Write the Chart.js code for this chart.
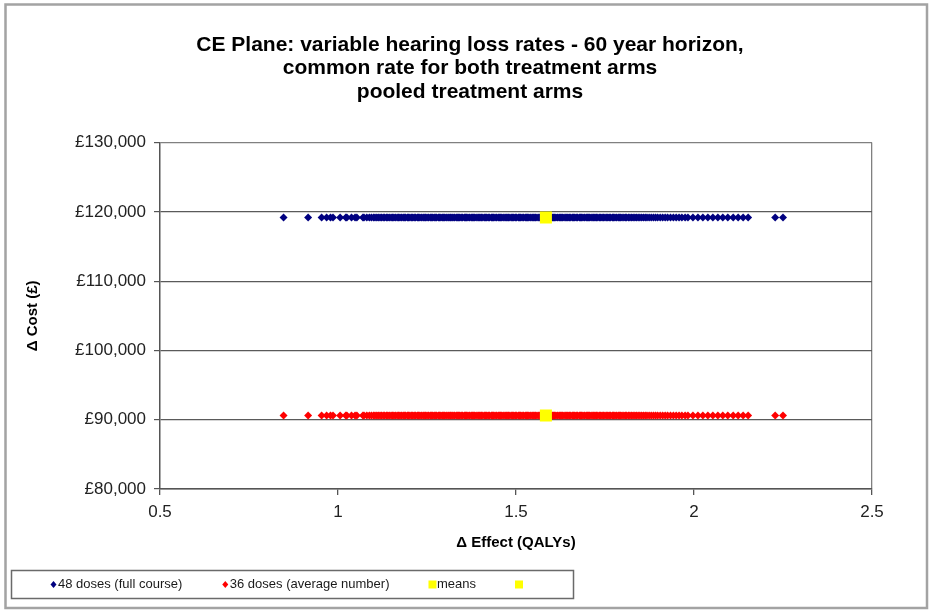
<!DOCTYPE html>
<html lang="en">
<head>
<meta charset="UTF-8">
<title>CE Plane: variable hearing loss rates</title>
<script src="https://cdn.jsdelivr.net/npm/chart.js"></script>
<style>
    html, body { margin: 0; padding: 0; background: #fff; }
    #wrap { width: 930px; height: 610px; position: relative; }
</style>
</head>
<body>
<div id="wrap"><canvas id="cePlane"></canvas></div>
<script>
// ---- data ----
const titleLines = [
    'CE Plane: variable hearing loss rates - 60 year horizon,',
    'common rate for both treatment arms',
    'pooled treatment arms'
];
const seriesLabels = ['48 doses (full course)', '36 doses (average number)', 'means', ''];
const seriesColors = ['#000080', '#ff0000', '#ffff00', '#ffff00'];

// incremental QALYs of the simulations (same for both dosing rows)
const effects = [
    0.847, 0.916, 0.954, 0.968, 0.979, 0.986, 1.006, 1.022, 1.025, 1.038, 1.048, 1.053, 1.07, 1.073,
    1.081, 1.088, 1.094, 1.1, 1.104, 1.109, 1.113, 1.118, 1.122, 1.127, 1.131, 1.136, 1.14,
    1.144, 1.149, 1.153, 1.157, 1.161, 1.166, 1.17, 1.174, 1.178, 1.183, 1.186, 1.19, 1.195,
    1.198, 1.202, 1.207, 1.21, 1.214, 1.218, 1.223, 1.226, 1.23, 1.234, 1.239, 1.242, 1.246,
    1.25, 1.254, 1.259, 1.262, 1.266, 1.27, 1.273, 1.277, 1.282, 1.285, 1.289, 1.293, 1.297,
    1.3, 1.304, 1.309, 1.312, 1.316, 1.32, 1.323, 1.327, 1.332, 1.335, 1.339, 1.342, 1.346,
    1.35, 1.355, 1.358, 1.361, 1.365, 1.369, 1.374, 1.377, 1.38, 1.384, 1.388, 1.393, 1.396,
    1.399, 1.403, 1.407, 1.412, 1.415, 1.418, 1.422, 1.426, 1.431, 1.434, 1.437, 1.441, 1.445,
    1.45, 1.453, 1.456, 1.46, 1.464, 1.469, 1.472, 1.475, 1.479, 1.483, 1.488, 1.491, 1.494,
    1.498, 1.502, 1.507, 1.51, 1.513, 1.517, 1.521, 1.526, 1.529, 1.532, 1.536, 1.54, 1.545,
    1.548, 1.551, 1.555, 1.559, 1.564, 1.567, 1.57, 1.574, 1.578, 1.583, 1.586, 1.589, 1.593,
    1.597, 1.602, 1.605, 1.608, 1.612, 1.616, 1.621, 1.624, 1.627, 1.631, 1.635, 1.64, 1.643,
    1.646, 1.65, 1.654, 1.659, 1.662, 1.665, 1.669, 1.673, 1.678, 1.681, 1.684, 1.688, 1.692,
    1.697, 1.7, 1.703, 1.707, 1.711, 1.716, 1.719, 1.722, 1.726, 1.73, 1.735, 1.738, 1.742,
    1.746, 1.75, 1.755, 1.758, 1.762, 1.766, 1.771, 1.774, 1.778, 1.782, 1.787, 1.79, 1.794,
    1.798, 1.803, 1.807, 1.811, 1.816, 1.82, 1.825, 1.829, 1.834, 1.838, 1.843, 1.848, 1.853,
    1.858, 1.863, 1.868, 1.874, 1.88, 1.886, 1.892, 1.898, 1.905, 1.912, 1.919, 1.926, 1.934,
    1.942, 1.95, 1.958, 1.966, 1.975, 1.983, 1.997, 2.011, 2.025, 2.039, 2.053,
    2.067, 2.081, 2.095, 2.11, 2.124, 2.138, 2.152, 2.228, 2.25
];
// incremental cost of each dosing row (£)
const seriesCosts = [119200, 90600];
// mean point of each row
const meanEffects = [1.584, 1.584];
const meanCosts = [119200, 90600];

const xTicks = [0.5, 1, 1.5, 2, 2.5];
const yTicks = [80000, 90000, 100000, 110000, 120000, 130000];

const FONT = '"Liberation Sans", Arial, sans-serif';

// grey frame round the whole chart
const outerFrame = {
    id: 'outerFrame',
    beforeDraw(chart) {
        const ctx = chart.ctx;
        ctx.save();
        ctx.fillStyle = '#fff';
        ctx.fillRect(0, 0, chart.width, chart.height);
        ctx.strokeStyle = '#a3a3a3';
        ctx.lineWidth = 2.5;
        ctx.strokeRect(5.5, 4.5, 921.5, 603.5);
        ctx.restore();
    }
};

// Excel style boxed legend at the bottom left
const boxLegend = {
    id: 'boxLegend',
    afterDraw(chart) {
        const ctx = chart.ctx;
        ctx.save();
        ctx.strokeStyle = '#6a6a6a';
        ctx.lineWidth = 1.5;
        ctx.strokeRect(11.5, 570.5, 562, 28);
        ctx.font = '13px ' + FONT;
        ctx.textBaseline = 'middle';
        let x = 53.5;
        const y = 584.5;
        chart.data.datasets.forEach(ds => {
            ctx.fillStyle = ds.backgroundColor;
            ctx.beginPath();
            if (ds.pointStyle === 'rectRot') {
                ctx.moveTo(x - 3, y);
                ctx.lineTo(x, y - 3.5);
                ctx.lineTo(x + 3, y);
                ctx.lineTo(x, y + 3.5);
                ctx.closePath();
            } else {
                ctx.rect(x - 4, y - 4, 8, 8);
            }
            ctx.fill();
            const tx = x + 4.5;
            ctx.fillStyle = '#1a1a1a';
            ctx.fillText(ds.label, tx, y);
            x = tx + ctx.measureText(ds.label).width + 43;
        });
        ctx.restore();
    }
};

const rowData = cost => effects.map(e => ({ x: e, y: cost }));

new Chart(document.getElementById('cePlane'), {
    type: 'scatter',
    data: {
        datasets: [
            {
                label: seriesLabels[0],
                data: rowData(seriesCosts[0]),
                backgroundColor: seriesColors[0],
                borderColor: seriesColors[0],
                borderWidth: 0,
                pointStyle: 'rectRot',
                pointRadius: 4,
                order: 2
            },
            {
                label: seriesLabels[1],
                data: rowData(seriesCosts[1]),
                backgroundColor: seriesColors[1],
                borderColor: seriesColors[1],
                borderWidth: 0,
                pointStyle: 'rectRot',
                pointRadius: 4,
                order: 2
            },
            {
                label: seriesLabels[2],
                data: [{ x: meanEffects[0], y: meanCosts[0] }],
                backgroundColor: seriesColors[2],
                borderWidth: 0,
                pointStyle: 'rect',
                pointRadius: 8.5,
                order: 1
            },
            {
                label: seriesLabels[3],
                data: [{ x: meanEffects[1], y: meanCosts[1] }],
                backgroundColor: seriesColors[3],
                borderWidth: 0,
                pointStyle: 'rect',
                pointRadius: 8.5,
                order: 1
            }
        ]
    },
    options: {
        responsive: true,
        maintainAspectRatio: false,
        animation: false,
        events: [],
        layout: { padding: { left: 20, right: 10, top: 0, bottom: 54 } },
        plugins: {
            legend: { display: false },
            tooltip: { enabled: false },
            title: {
                display: true,
                text: titleLines,
                color: '#000',
                font: { family: FONT, size: 21, weight: 'bold', lineHeight: 1.12 },
                padding: { top: 33, bottom: 39 }
            }
        },
        scales: {
            x: {
                type: 'linear',
                min: xTicks[0],
                max: xTicks[xTicks.length - 1],
                afterBuildTicks: s => { s.ticks = xTicks.map(v => ({ value: v })); },
                afterFit: s => { s.height = 67; },
                border: { color: '#555', width: 1.5 },
                grid: {
                    drawOnChartArea: true,
                    color: c => (c.tick && c.tick.value === 2.5) ? '#808080' : 'rgba(0,0,0,0)',
                    tickColor: '#555',
                    tickLength: 6,
                    lineWidth: 1.3
                },
                ticks: {
                    color: '#222',
                    font: { family: FONT, size: 17 },
                    padding: 7,
                    callback: v => String(v)
                },
                title: {
                    display: true,
                    text: 'Δ Effect (QALYs)',
                    color: '#000',
                    font: { family: FONT, size: 15, weight: 'bold' },
                    padding: { top: 0, bottom: 4 }
                }
            },
            y: {
                type: 'linear',
                min: yTicks[0],
                max: yTicks[yTicks.length - 1],
                afterBuildTicks: s => { s.ticks = yTicks.map(v => ({ value: v })); },
                afterFit: s => { s.width = 140; },
                border: { color: '#555', width: 1.5 },
                grid: {
                    color: c => (c.tick && c.tick.value === 130000) ? '#808080' : '#5a5a5a',
                    tickColor: '#555',
                    tickLength: 6,
                    lineWidth: 1.2
                },
                ticks: {
                    color: '#222',
                    font: { family: FONT, size: 17 },
                    padding: 8,
                    callback: v => '£' + v.toLocaleString('en-GB')
                },
                title: {
                    display: true,
                    text: 'Δ Cost (£)',
                    color: '#000',
                    font: { family: FONT, size: 15, weight: 'bold' },
                    padding: { top: 4, bottom: 0 }
                }
            },
            yRight: {
                type: 'linear',
                position: 'right',
                display: true,
                grid: { display: false },
                border: { display: false },
                ticks: { display: false },
                afterFit: s => { s.width = 48; }
            }
        }
    },
    plugins: [outerFrame, boxLegend]
});
</script>
</body>
</html>
